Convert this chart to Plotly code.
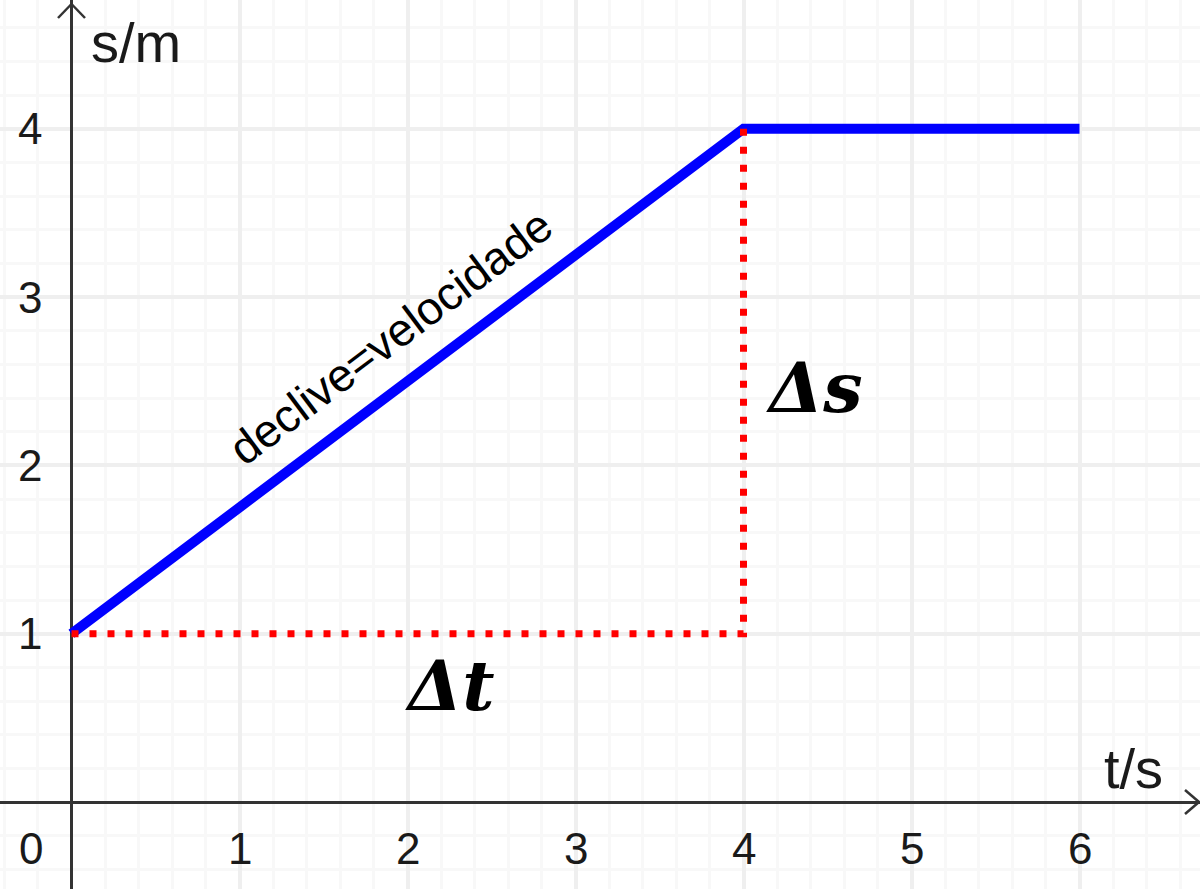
import plotly.graph_objects as go

# dados do gráfico s(t)
t_vals = [0, 4, 6]
s_vals = [1, 4, 4]

# linhas auxiliares (Δt e Δs)
aux_t = [0, 4, 4]
aux_s = [1, 1, 4]

x_ticks = [1, 2, 3, 4, 5, 6]
y_ticks = [1, 2, 3, 4]

# escala: px por unidade
px_x = 168.0
px_y = 168.3
x_range = [-71.5 / px_x, (1200 - 71.5) / px_x]
y_range = [-(889 - 802) / px_y, 802 / px_y]

axis_col = '#333333'
txt_col = '#1a1a1a'

fig = go.Figure()

fig.add_trace(go.Scatter(
    x=t_vals, y=s_vals, mode='lines',
    line=dict(color='#0000ff', width=10),
    hoverinfo='skip', showlegend=False
))
fig.add_trace(go.Scatter(
    x=aux_t, y=aux_s, mode='lines',
    line=dict(color='#ff0000', width=7, dash='7px,11px'),
    hoverinfo='skip', showlegend=False
))

annotations = []
# rótulos dos eixos
for v in x_ticks:
    annotations.append(dict(x=v, y=0, yshift=-46, text=str(v), showarrow=False,
                            font=dict(family='Liberation Sans', size=44, color=txt_col)))
annotations.append(dict(x=0, y=0, xshift=-41, yshift=-46, text='0', showarrow=False,
                        font=dict(family='Liberation Sans', size=44, color=txt_col)))
for v in y_ticks:
    annotations.append(dict(x=0, y=v, xshift=-42, text=str(v), showarrow=False,
                            font=dict(family='Liberation Sans', size=44, color=txt_col)))

annotations.append(dict(x=0, y=4, xshift=64, yshift=86, text='s/m', showarrow=False,
                        font=dict(family='Liberation Sans', size=56, color=txt_col)))
annotations.append(dict(x=6, y=0, xshift=54, yshift=34, text='t/s', showarrow=False,
                        font=dict(family='Liberation Sans', size=56, color=txt_col)))

annotations.append(dict(x=1.9, y=2.76, text='declive=velocidade', textangle=-37,
                        showarrow=False,
                        font=dict(family='Liberation Sans', size=46, color='black')))
annotations.append(dict(x=2.25, y=0.69, text='<b><i>Δt</i></b>', showarrow=False,
                        font=dict(family='DejaVu Serif', size=70, color='black')))
annotations.append(dict(x=4.42, y=2.46, text='<b><i>Δs</i></b>', showarrow=False,
                        font=dict(family='DejaVu Serif', size=70, color='black')))

# pontas de seta dos eixos
ax_tip_x = (1199 - 71.5) / px_x
ay_tip = y_range[1] - 4 / px_y
shapes = [
    dict(type='line', x0=ax_tip_x - 14 / px_x, y0=12 / px_y, x1=ax_tip_x, y1=0,
         line=dict(color=axis_col, width=2.5)),
    dict(type='line', x0=ax_tip_x - 14 / px_x, y0=-12 / px_y, x1=ax_tip_x, y1=0,
         line=dict(color=axis_col, width=2.5)),
    dict(type='line', x0=-13.5 / px_x, y0=ay_tip - 14 / px_y, x1=0, y1=ay_tip,
         line=dict(color=axis_col, width=2.5)),
    dict(type='line', x0=13.5 / px_x, y0=ay_tip - 14 / px_y, x1=0, y1=ay_tip,
         line=dict(color=axis_col, width=2.5)),
]

axis_common = dict(
    showticklabels=False, ticks='', dtick=1, tick0=0,
    showgrid=True, gridcolor='#efefef', gridwidth=4,
    minor=dict(dtick=0.2, showgrid=True, gridcolor='#f8f8f8', gridwidth=3),
    zeroline=True, zerolinecolor=axis_col, zerolinewidth=2.5,
    showline=False, fixedrange=True,
)

fig.update_layout(
    width=1200, height=889,
    margin=dict(l=0, r=0, t=0, b=0),
    paper_bgcolor='white', plot_bgcolor='white',
    xaxis=dict(range=x_range, **axis_common),
    yaxis=dict(range=y_range, **axis_common),
    annotations=annotations,
    shapes=shapes,
    showlegend=False,
)

# tira a margem do body para o gráfico ocupar a janela toda
fig.write_html("out.html", config={'displayModeBar': False},
               post_script="document.body.style.margin='0px';")
